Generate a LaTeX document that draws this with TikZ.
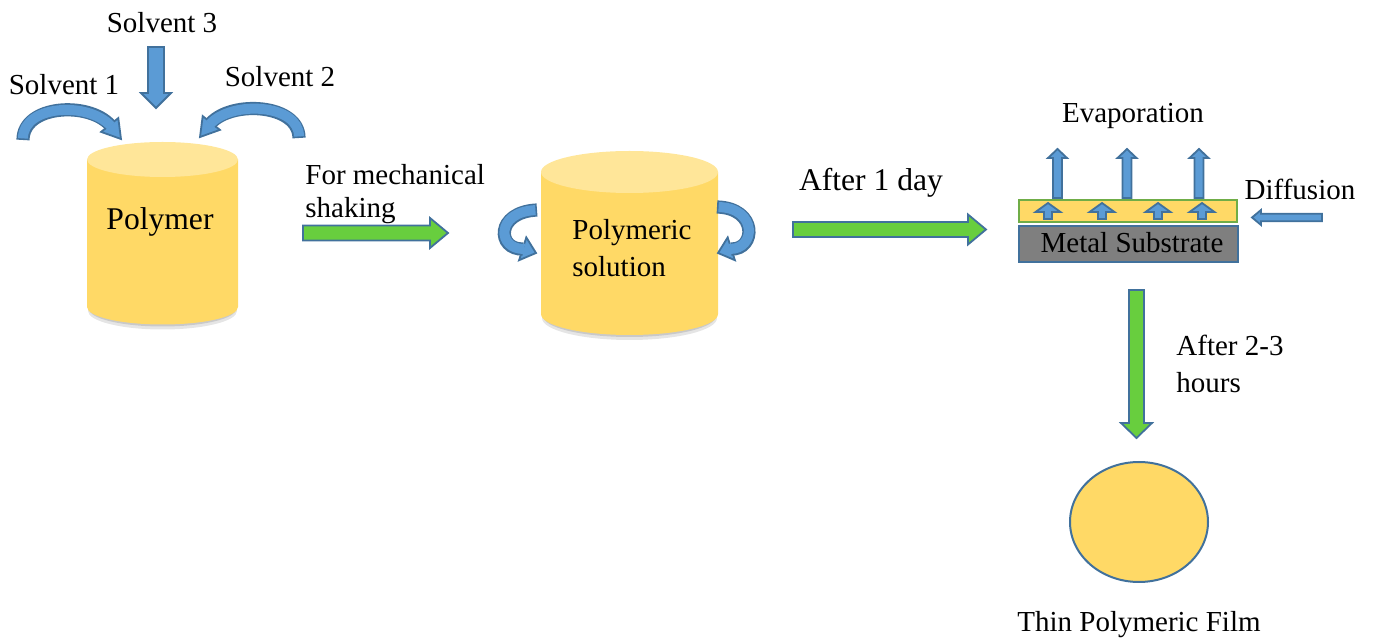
\documentclass[tikz,border=0pt]{standalone}
\usepackage{fontspec}
\setmainfont{Liberation Serif}
\usepackage{tikz}

\definecolor{cylbody}{RGB}{255,217,102}
\definecolor{cyltop}{RGB}{255,230,153}
\definecolor{bfill}{RGB}{91,155,213}
\definecolor{bedge}{RGB}{65,113,156}
\definecolor{gfill}{RGB}{104,206,62}
\definecolor{metalgray}{RGB}{127,127,127}
\definecolor{layeredge}{RGB}{112,173,71}

% straight block arrow: style, x, y, angle, length, shaft half width, head half width, head length
\newcommand{\blockarrow}[8]{%
 \begin{scope}[shift={(#2,#3)}, rotate=#4]
 \draw[#1] (0,-#6) -- ({#5-#8},-#6) -- ({#5-#8},-#7) -- (#5,0) -- ({#5-#8},#7) -- ({#5-#8},#6) -- (0,#6) -- cycle;
 \end{scope}}
% bent block arrow: band path, head polygon
\newcommand{\bentarrow}[2]{%
 \draw[barrow] #2 -- cycle;
 \draw[bandedge] #1;
 \draw[bandfill] #1;}
% cylinder: cx, top y, bottom y, rx, ry
\newcommand{\cylinder}[5]{%
 \fill[black, opacity=0.10] (#1,{#3+4}) ellipse[x radius={#4-1}, y radius={#5+1}];
 \fill[black, opacity=0.12] (#1,{#3+2}) ellipse[x radius={#4-2}, y radius=#5];
 \fill[cylbody] ({#1-#4},#2) -- ({#1-#4},#3) arc[start angle=180, end angle=0, x radius=#4, y radius=#5] -- ({#1+#4},#2) -- cycle;
 \fill[cyltop] (#1,#2) ellipse[x radius=#4, y radius=#5];}

\begin{document}
\begin{tikzpicture}[x=0.5pt, y=-0.5pt,
 lbl/.style={font=\fontsize{14.5}{17}\selectfont, inner sep=0pt},
 biglbl/.style={font=\fontsize{15.8}{18}\selectfont, inner sep=0pt},
 garrow/.style={fill=gfill, draw=bedge, line width=0.9pt, line join=miter},
 barrow/.style={fill=bfill, draw=bedge, line width=0.9pt, line join=miter},
 bandedge/.style={draw=bedge, line width=6.6pt},
 bandfill/.style={draw=bfill, line width=5pt, shorten <=0.8pt, shorten >=-0.8pt}]
\useasboundingbox (0,0) rectangle (1373,641);

% polymer and solvents
\cylinder{162.5}{159.5}{307}{75.5}{17.5}
\node[biglbl, anchor=base] (polymer) at (160,230) {Polymer};
\node[lbl, anchor=base] (solventthree) at (162,33) {Solvent 3};
\node[lbl, anchor=base] (solventone) at (64,95) {Solvent 1};
\node[lbl, anchor=base] (solventtwo) at (280,87) {Solvent 2};
\blockarrow{barrow}{156}{47}{-90}{61}{8}{15}{15}
\bentarrow{(23,140) .. controls (23,105) and (88,101) .. (110,125)}
 {(121,139) -- (118.3,118.1) -- (101.1,131.9)}
\bentarrow{(299,138) .. controls (299,104) and (232,100) .. (211,123)}
 {(200,137) -- (219.9,129.9) -- (202.7,116.1)}

% shaking
\node[lbl, anchor=north west, align=left] (shaking) at (305,164) {For mechanical\\[-0.6pt]shaking};
\blockarrow{garrow}{303}{233}{0}{145}{7.5}{15}{18}

% polymeric solution
\cylinder{629.5}{172}{314}{88.5}{21}
\node[lbl, anchor=north west, align=left] (solution) at (572,219) {Polymeric\\[1.5pt]solution};
\bentarrow{(537,210) .. controls (495,212) and (497,250) .. (523,249)}
 {(536,253) -- (519.1,260.2) -- (526.3,237.4)}
\bentarrow{(717,207) .. controls (758,208) and (756,250) .. (731,249)}
 {(718,253) -- (734.9,260.2) -- (727.7,237.4)}

\node[biglbl, anchor=base] (oneday) at (871,191) {After 1 day};
\blockarrow{garrow}{793}{229.5}{0}{193}{7.5}{15}{18}

% substrate
\node[lbl, anchor=base] (evaporation) at (1133,123) {Evaporation};
\foreach \ex in {1057.5,1127,1199}
 \blockarrow{barrow}{\ex}{198}{90}{49}{4.5}{9.5}{9};
\draw[fill=cylbody, draw=layeredge, line width=0.8pt] (1019,200) rectangle (1237,222);
\foreach \ux in {1048,1102,1158,1202}
 \blockarrow{barrow}{\ux}{219}{90}{16}{4}{12.5}{9};
\draw[fill=metalgray, draw=bedge, line width=1pt] (1019,226) rectangle (1238,262);
\node[lbl, anchor=base] (metal) at (1132,253) {Metal Substrate};
\node[lbl, anchor=base] (diffusion) at (1300,200) {Diffusion};
\blockarrow{barrow}{1322}{217.5}{180}{70}{3.8}{7.5}{9}

% film
\blockarrow{garrow}{1136.5}{290}{-90}{148}{7.5}{15.5}{15}
\node[lbl, anchor=north west, align=left] (hours) at (1176,335) {After 2-3\\[1.5pt]hours};
\draw[fill=cylbody, draw=bedge, line width=1pt] (1139,522) ellipse[x radius=69, y radius=60];
\node[lbl, anchor=base] (film) at (1139,632) {Thin Polymeric Film};
\end{tikzpicture}
\end{document}
